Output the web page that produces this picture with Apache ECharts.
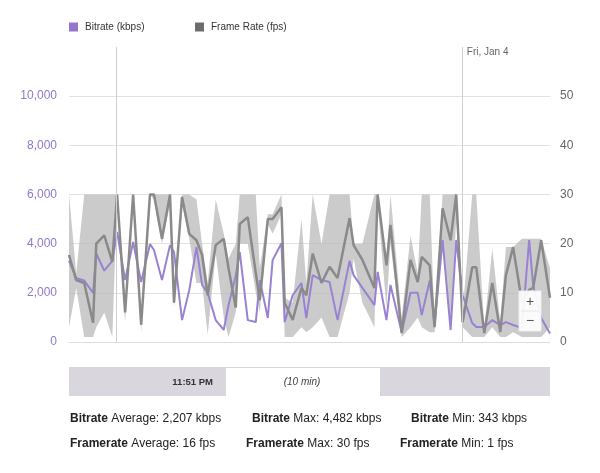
<!DOCTYPE html>
<html><head><meta charset="utf-8">
<script src="https://cdn.jsdelivr.net/npm/echarts@6/dist/echarts.min.js"></script>
<style>html,body{margin:0;padding:0;background:#fff}#c{width:600px;height:473px}</style>
</head><body><div id="c"></div>
<script>
// time offset in seconds within the 10 minute window
const times = [0,9,19,30,34,44,54,60,70,80, 90,101,106,116,126,131,141,150,159,166, 173,183,193,199,208,213,223,233,238,248, 254,265,269,279,290,296,304,315,325,335, 350,355,366,381,385,396,401,415,426,435, 440,450,456,466,476,483,491,503,508,518, 528,538,545,554,565,574,579,589,600];
const frameRate = [17.7,12.6,12,3.9,20,21.7,16.3,30,6,30, 3.5,30,30,21,30,8,29.5,22,20.7,17.7, 9.5,19.7,21,15,7,24,25.4,14,8.5,25, 25,27.4,8,4.5,11,9.5,18,12,15.3,13, 25.2,19.7,16.7,11,30,15.6,23.8,1.8,16.7,12.2, 17.3,15.6,3,27.2,20.7,30,4,15.2,15.2,1.8, 12,2,13.6,19.3,8.1,10.6,11,20.7,9];
const bitrate = [3300,2600,2500,2000,3600,2900,3300,4482,2520,4065, 2440,3980,3740,2520,3940,3660,890,2110,3860,2320, 2000,890,490,1500,2700,3660,890,810,2520,975, 3330,4020,810,1900,2400,975,2720,2520,2440,890, 3300,2720,2200,1500,2850,890,2320,400,2000,2000, 1100,2500,690,4150,490,4150,1900,770,610,610, 890,690,810,690,570,4150,2300,975,343];
const fpsLow = [3,11,1,1,3,6,1,29,4,29, 2,30,29,20,28,7,28,21,12,12, 1.5,18,5,1,6,20,20,10,6,24, 22,26,1,1,3,2,3,5,1,1, 10,17,8,3,28,7,20,1,3,5, 3,2,2,20,2,25,3,1,1,1, 3,1,1,2,1,1,1,1,3];
const fpsHigh = [30,14,30,30,30,30,30,30,8,30, 5,30,30,30,30,9,30,30,29,20, 12,29,22,17,20,30,30,30,15,26, 26,30,9,8,25,12,30,20,30,30, 30,20,20,30,30,16,30,5,21.6,14, 30,30,4,30,30,30,6,30,30,3, 19,4,19.3,19.3,21,21,21,21,15];
const markerTimes = [59, 490];
const markerLabel = 'Fri, Jan 4';
const seriesNames = ['Bitrate (kbps)', 'Frame Rate (fps)'];
const statsBitrate = [['Bitrate', 'Average: 2,207 kbps'], ['Bitrate', 'Max: 4,482 kbps'], ['Bitrate', 'Min: 343 kbps']];
const statsFramerate = [['Framerate', 'Average: 16 fps'], ['Framerate', 'Max: 30 fps'], ['Framerate', 'Min: 1 fps']];
const sliderStartLabel = '11:51 PM';
const sliderWindowLabel = '(10 min)';

const FONT = '"Liberation Sans", Arial, sans-serif';
const zip = (a) => times.map((t, i) => [t, a[i]]);

const chart = echarts.init(document.getElementById('c'));
const gridLineColors = ['#dcdcdc','#e2e2e2','#e2e2e2','#e2e2e2','#e2e2e2','#e2e2e2','rgba(0,0,0,0)'];

function renderBand(params, api) {
  if (params.dataIndex !== 0) return null;
  const pts = [];
  for (let i = 0; i < times.length; i++) pts.push(api.coord([times[i], fpsHigh[i]]));
  for (let i = times.length - 1; i >= 0; i--) pts.push(api.coord([times[i], fpsLow[i]]));
  return { type: 'polygon', shape: { points: pts }, style: { fill: '#b9b9b9', opacity: 0.75 } };
}

const legendBase = { icon: 'rect', itemWidth: 9, itemHeight: 9, padding: 0, top: 22, selectedMode: false,
  textStyle: { fontSize: 10, color: '#333', fontFamily: FONT, padding: [0,0,0,2] } };

const option = {
  animation: false,
  textStyle: { fontFamily: FONT },
  legend: [
    Object.assign({ data: [seriesNames[0]], left: 69 }, legendBase),
    Object.assign({ data: [seriesNames[1]], left: 195 }, legendBase)
  ],
  grid: { left: 69, right: 50, top: 47, bottom: 131 },
  xAxis: { type: 'value', min: 0, max: 600, show: false },
  yAxis: [
    { type: 'value', min: 0, max: 12000, interval: 2000,
      axisLine: { show: false }, axisTick: { show: false },
      axisLabel: { showMaxLabel: false, color: '#9078c6', fontSize: 12, fontFamily: FONT, margin: 12,
        formatter: v => v.toLocaleString('en-US') },
      splitLine: { lineStyle: { color: gridLineColors, width: 1 } } },
    { type: 'value', min: 0, max: 60, interval: 10, position: 'right',
      axisLine: { show: false }, axisTick: { show: false },
      axisLabel: { showMaxLabel: false, color: '#666', fontSize: 12, fontFamily: FONT, margin: 10 },
      splitLine: { show: false } }
  ],
  series: [
    { name: seriesNames[0], type: 'line', yAxisIndex: 0, data: zip(bitrate), showSymbol: false, symbol: 'none',
      lineStyle: { color: '#9a82d2', width: 2 }, itemStyle: { color: '#9575cd' }, z: 2 },
    { name: 'band', type: 'custom', yAxisIndex: 1, renderItem: renderBand, silent: true, z: 2,
      encode: { x: 0, y: [1, 2] },
      data: times.map((t, i) => [t, fpsLow[i], fpsHigh[i]]) },
    { name: seriesNames[1], type: 'line', yAxisIndex: 1, data: zip(frameRate), showSymbol: false, symbol: 'none',
      lineStyle: { color: '#8a8a8a', width: 2.5 }, itemStyle: { color: '#6d6d6d' }, z: 3,
      markLine: { silent: true, symbol: ['none', 'none'], label: { show: false },
        lineStyle: { color: '#cfcfcf', width: 1, type: 'solid' },
        data: markerTimes.map(t => ({ xAxis: t })) } }
  ]
};
chart.setOption(option);

const mx = chart.convertToPixel({ xAxisIndex: 0 }, markerTimes[1]);
const statText = (x, y, pair) => ({
  type: 'text', left: x, top: y,
  style: { text: '{b|' + pair[0] + '} ' + pair[1], font: '12px ' + FONT, fill: '#222',
    rich: { b: { fontWeight: 'bold', fontSize: 12, fontFamily: FONT, fill: '#222' } } }
});
const graphics = [
  { type: 'text', left: mx + 5, top: 47, style: { text: markerLabel, font: '10px ' + FONT, fill: '#666' } },
  // zoom buttons
  { type: 'rect', shape: { x: 519, y: 291, width: 22, height: 40 }, style: { fill: 'rgba(255,255,255,0.92)', stroke: '#eee' }, z: 10 },
  { type: 'line', shape: { x1: 521, y1: 311, x2: 539, y2: 311 }, style: { stroke: '#e6e6e6' }, z: 10 },
  { type: 'text', x: 530, y: 302, style: { text: '+', font: '14px ' + FONT, fill: '#555', align: 'center', verticalAlign: 'middle' }, z: 11 },
  { type: 'text', x: 530, y: 321, style: { text: '\u2212', font: '14px ' + FONT, fill: '#555', align: 'center', verticalAlign: 'middle' }, z: 11 },
  // navigator bar
  { type: 'rect', shape: { x: 69, y: 367, width: 481, height: 29 }, style: { fill: '#d9d7dd' } },
  { type: 'rect', shape: { x: 226, y: 368, width: 154, height: 28 }, style: { fill: '#ffffff' } },
  { type: 'text', x: 213, y: 382, style: { text: sliderStartLabel, font: 'bold 9.5px ' + FONT, fill: '#333', align: 'right', verticalAlign: 'middle' } },
  { type: 'text', x: 302, y: 382, style: { text: sliderWindowLabel, font: 'italic 10px ' + FONT, fill: '#444', align: 'center', verticalAlign: 'middle' } },
  statText(70, 413, statsBitrate[0]), statText(252, 413, statsBitrate[1]), statText(411, 413, statsBitrate[2]),
  statText(70, 438, statsFramerate[0]), statText(246, 438, statsFramerate[1]), statText(400, 438, statsFramerate[2])
];
chart.setOption({ graphic: graphics });
</script></body></html>
